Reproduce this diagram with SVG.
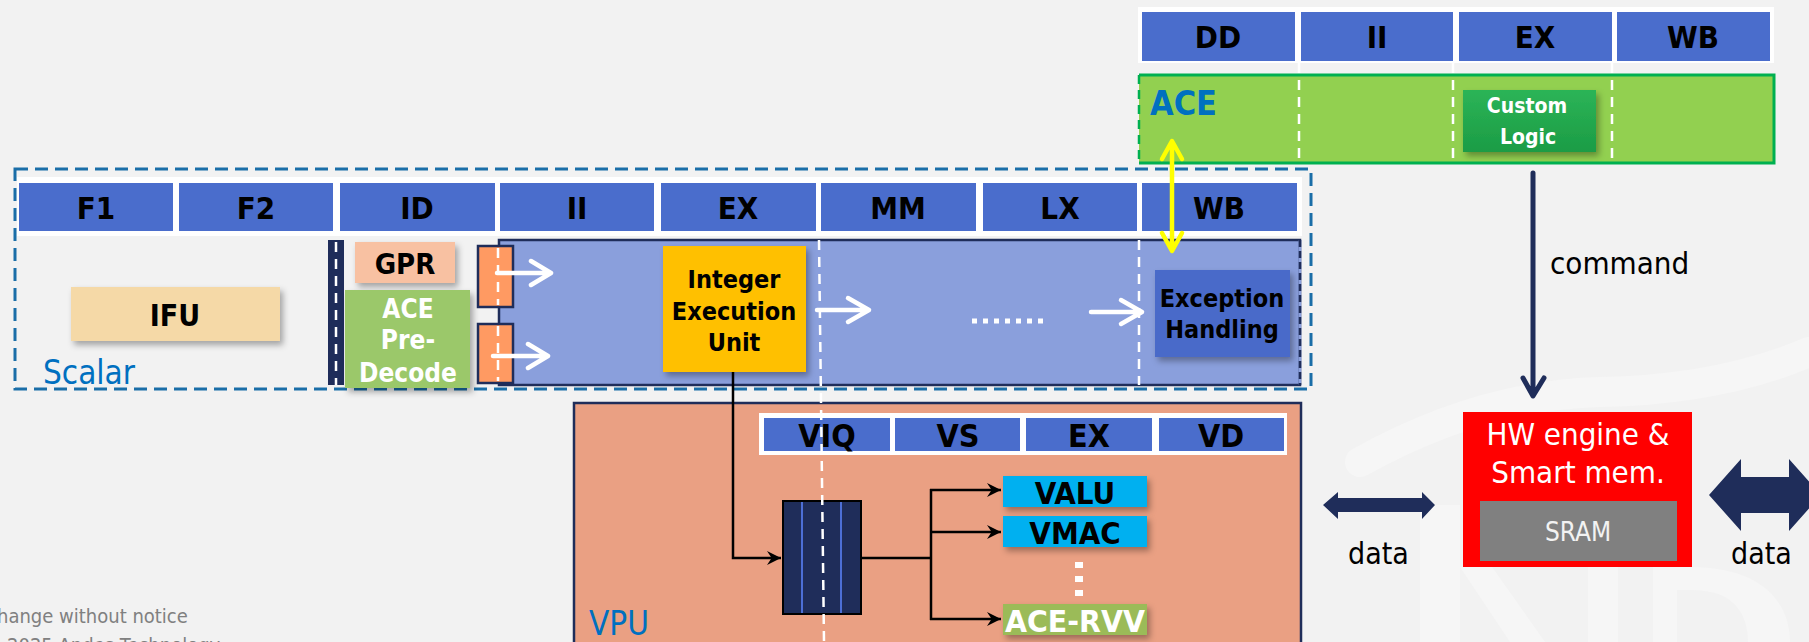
<svg xmlns="http://www.w3.org/2000/svg" width="1809" height="642" viewBox="0 0 1809 642">
<defs>
<style>
.b{font-family:'DejaVu Sans Condensed','DejaVu Sans',sans-serif;font-stretch:condensed;font-weight:bold;text-anchor:middle;fill:#000}
.r{font-family:'DejaVu Sans Condensed','DejaVu Sans',sans-serif;font-stretch:condensed}
.cell{fill:#4a6dcc}
.wd{stroke:#fff;stroke-width:2.5;stroke-dasharray:10 7;fill:none}
.wa{stroke:#fff;stroke-width:4.5;fill:none;stroke-linecap:round;stroke-linejoin:round}
.bl{stroke:#000;stroke-width:2.5;fill:none}
</style>
<filter id="sh" x="-15%" y="-15%" width="140%" height="150%">
<feDropShadow dx="3" dy="4" stdDeviation="3" flood-color="#000" flood-opacity="0.33"/>
</filter>
<linearGradient id="cg" x1="0" y1="0" x2="0" y2="1">
<stop offset="0" stop-color="#2cb457"/>
<stop offset="1" stop-color="#1b9c45"/>
</linearGradient>
<marker id="blk" viewBox="0 0 12 12" refX="12" refY="6" markerWidth="14" markerHeight="14" markerUnits="userSpaceOnUse" orient="auto">
<path d="M0,0 L12,6 L0,12 L4,6 z" fill="#000"/>
</marker>
</defs>
<rect width="1809" height="642" fill="#f2f2f2"/>
<g id="watermark" fill="#f6f6f6">
<path d="M1360,462 Q1480,395 1600,392 Q1720,390 1809,352" stroke="#f6f6f6" stroke-width="30" stroke-linecap="round" fill="none"/>
<rect x="1420" y="505" width="40" height="137"/>
<polygon points="1460,567 1492,567 1545,642 1510,642"/>
<rect x="1588" y="567" width="30" height="75"/>
<path d="M1653,642 V567 H1690 C1765,567 1790,605 1790,642 Z M1677,642 V590 H1692 C1735,590 1748,615 1748,642 Z" fill-rule="evenodd"/>
</g>

<g id="ace-stages">
<rect x="1138" y="7" width="636" height="56" fill="#fff"/>
<rect class="cell" x="1142" y="12" width="153" height="49"/>
<rect class="cell" x="1301" y="12" width="152" height="49"/>
<rect class="cell" x="1459" y="12" width="153" height="49"/>
<rect class="cell" x="1617" y="12" width="153" height="49"/>
<text class="b" x="1218" y="48" font-size="31">DD</text>
<text class="b" x="1377" y="48" font-size="31">II</text>
<text class="b" x="1535" y="48" font-size="31">EX</text>
<text class="b" x="1693" y="48" font-size="31">WB</text>
</g>

<g id="ace">
<rect x="1139" y="75" width="635" height="88" fill="#92d050"/>
<path d="M1139,75 H1774 V163 H1139" fill="none" stroke="#00b050" stroke-width="3"/>
<line x1="1139" y1="75" x2="1139" y2="163" stroke="#00b050" stroke-width="2.5" stroke-dasharray="9 6"/>
<line class="wd" x1="1299" y1="63" x2="1299" y2="163"/>
<line class="wd" x1="1453" y1="63" x2="1453" y2="163"/>
<line class="wd" x1="1612" y1="63" x2="1612" y2="163"/>
<text class="r" x="1150" y="115" font-size="34" font-weight="bold" fill="#0070c0">ACE</text>
</g>
<g id="custom-logic">
<rect x="1463" y="90" width="133" height="62" fill="url(#cg)" filter="url(#sh)"/>
<text class="b" x="1527" y="113" font-size="21" style="fill:#fff">Custom</text>
<text class="b" x="1528" y="144" font-size="21" style="fill:#fff">Logic</text>
</g>

<g id="scalar">
<rect x="15" y="169" width="1296" height="220" fill="none" stroke="#1a6ea8" stroke-width="3" stroke-dasharray="13 7"/>
<rect x="17" y="177" width="1285" height="59" fill="#fff"/>
<rect class="cell" x="19" y="183" width="154" height="48"/>
<rect class="cell" x="179" y="183" width="154" height="48"/>
<rect class="cell" x="340" y="183" width="155" height="48"/>
<rect class="cell" x="500" y="183" width="154" height="48"/>
<rect class="cell" x="661" y="183" width="155" height="48"/>
<rect class="cell" x="821" y="183" width="155" height="48"/>
<rect class="cell" x="983" y="183" width="154" height="48"/>
<rect class="cell" x="1142" y="183" width="155" height="48"/>
<text class="b" x="96" y="219" font-size="31">F1</text>
<text class="b" x="256" y="219" font-size="31">F2</text>
<text class="b" x="417" y="219" font-size="31">ID</text>
<text class="b" x="577" y="219" font-size="31">II</text>
<text class="b" x="738" y="219" font-size="31">EX</text>
<text class="b" x="898" y="219" font-size="31">MM</text>
<text class="b" x="1060" y="219" font-size="31">LX</text>
<text class="b" x="1219" y="219" font-size="31">WB</text>
<text class="r" x="43" y="384" font-size="33" fill="#0070c0">Scalar</text>
</g>

<g id="pipeline">
<rect x="499" y="240" width="801" height="145" fill="#8a9fdc" stroke="#1f2d5a" stroke-width="2.5"/>
<line x1="1300" y1="240" x2="1300" y2="385" stroke="#8a9fdc" stroke-width="2.5"/>
<line x1="1300" y1="240" x2="1300" y2="385" stroke="#1f2d5a" stroke-width="2.5" stroke-dasharray="7 4"/>
<line class="wd" x1="1139" y1="240" x2="1139" y2="385"/>
</g>

<g id="ifu">
<rect x="71" y="287" width="209" height="54" fill="#f5d9a7" filter="url(#sh)"/>
<text class="b" x="175" y="326" font-size="30">IFU</text>
</g>
<g id="id-latch">
<rect x="328" y="240" width="16" height="145" fill="#1f2d5a"/>
<line class="wd" x1="336" y1="242" x2="336" y2="385" stroke-width="2"/>
</g>
<g id="gpr">
<rect x="355" y="242" width="100" height="41" fill="#f8c1a2" filter="url(#sh)"/>
<text class="b" x="405" y="274" font-size="29">GPR</text>
</g>
<g id="ace-predecode">
<rect x="345" y="290" width="125" height="98" fill="#9bc86b" filter="url(#sh)"/>
<text class="b" x="408" y="318" font-size="26" style="fill:#fff">ACE</text>
<text class="b" x="408" y="349" font-size="26" style="fill:#fff">Pre-</text>
<text class="b" x="408" y="382" font-size="26" style="fill:#fff">Decode</text>
</g>
<g id="ii-latch">
<rect x="478" y="246" width="35" height="61" fill="#ff9a62" stroke="#1f2d5a" stroke-width="2.5"/>
<rect x="478" y="324" width="35" height="59" fill="#ff9a62" stroke="#1f2d5a" stroke-width="2.5"/>
<line class="wd" x1="498" y1="248" x2="498" y2="305" stroke-width="2"/>
<line class="wd" x1="498" y1="326" x2="498" y2="381" stroke-width="2"/>
</g>
<g id="integer-exec">
<rect x="663" y="246" width="143" height="126" fill="#ffc000" filter="url(#sh)"/>
<text class="b" x="734" y="288" font-size="25">Integer</text>
<text class="b" x="734" y="320" font-size="25">Execution</text>
<text class="b" x="734" y="351" font-size="25">Unit</text>
</g>
<g id="exception">
<rect x="1155" y="270" width="135" height="87" fill="#4a6bc9" filter="url(#sh)"/>
<text class="b" x="1222" y="307" font-size="25">Exception</text>
<text class="b" x="1222" y="338" font-size="25">Handling</text>
</g>

<g id="vpu">
<rect x="574" y="403" width="727" height="250" fill="#eaa083" stroke="#1f2d5a" stroke-width="2.5"/>
<rect x="759" y="413" width="528" height="42" fill="#fff"/>
<rect class="cell" x="764" y="418" width="126" height="33"/>
<rect class="cell" x="895" y="418" width="125" height="33"/>
<rect class="cell" x="1026" y="418" width="126" height="33"/>
<rect class="cell" x="1159" y="418" width="125" height="33"/>
<text class="b" x="827" y="447" font-size="32">VIQ</text>
<text class="b" x="958" y="447" font-size="32">VS</text>
<text class="b" x="1089" y="447" font-size="32">EX</text>
<text class="b" x="1221" y="447" font-size="32">VD</text>
<text class="r" x="589" y="635" font-size="33" fill="#0070c0">VPU</text>
</g>
<g id="vector-queue">
<rect x="783" y="501" width="78" height="113" fill="#1f2d5a" stroke="#000" stroke-width="2"/>
<line x1="802" y1="502" x2="802" y2="613" stroke="#4d6fd6" stroke-width="2"/>
<line x1="841" y1="502" x2="841" y2="613" stroke="#4d6fd6" stroke-width="2"/>
</g>
<line id="vdash" class="wd" x1="819" y1="240" x2="824" y2="642"/>
<g id="valu">
<rect x="1003" y="476" width="144" height="31" fill="#00b0f0" filter="url(#sh)"/>
<text class="b" x="1075" y="504" font-size="31">VALU</text>
</g>
<g id="vmac">
<rect x="1003" y="516" width="144" height="31" fill="#00b0f0" filter="url(#sh)"/>
<text class="b" x="1075" y="544" font-size="31">VMAC</text>
</g>
<g id="ace-rvv">
<rect x="1003" y="604" width="144" height="31" fill="#9bbb59" filter="url(#sh)"/>
<text class="b" x="1075" y="632" font-size="31" textLength="140" lengthAdjust="spacingAndGlyphs" style="fill:#fff">ACE-RVV</text>
</g>
<line x1="1079" y1="562" x2="1079" y2="596" stroke="#fff" stroke-width="8" stroke-dasharray="6 8"/>

<g id="hw-engine">
<rect x="1463" y="412" width="229" height="155" fill="#ff0000"/>
<text class="r" x="1578" y="445" font-size="31" fill="#fff" text-anchor="middle">HW engine &amp;</text>
<text class="r" x="1578" y="483" font-size="31" fill="#fff" text-anchor="middle">Smart mem.</text>
<rect x="1480" y="501" width="197" height="60" fill="#808080"/>
<text class="r" x="1578" y="541" font-size="26" fill="#f2f2f2" text-anchor="middle">SRAM</text>
</g>

<g id="connectors">
<polyline class="bl" points="733,372 733,558 781,558" marker-end="url(#blk)"/>
<polyline class="bl" points="861,558 931,558"/>
<line class="bl" x1="931" y1="489" x2="931" y2="620"/>
<line class="bl" x1="930" y1="490" x2="1001" y2="490" marker-end="url(#blk)"/>
<line class="bl" x1="930" y1="532" x2="1001" y2="532" marker-end="url(#blk)"/>
<line class="bl" x1="930" y1="619" x2="1001" y2="619" marker-end="url(#blk)"/>
<path class="wa" d="M497,273 H551 M531,261 L551,273 L531,285"/>
<path class="wa" d="M493,356 H548 M528,344 L548,356 L528,368"/>
<path class="wa" d="M817,310 H869 M848,298 L869,310 L848,322"/>
<path class="wa" d="M1091,312 H1142 M1121,300 L1142,312 L1121,324"/>
<line x1="972" y1="321" x2="1048" y2="321" stroke="#fff" stroke-width="5" stroke-dasharray="5 6"/>
<path d="M1172,142 V250 M1162,159 L1172,141 L1182,159 M1162,233 L1172,251 L1182,233" stroke="#ffff00" stroke-width="4.5" fill="none" stroke-linecap="round" stroke-linejoin="round"/>
<path d="M1533,173 V395 M1523,378 L1533,396 L1544,378" stroke="#1f2d5a" stroke-width="5" fill="none" stroke-linecap="round" stroke-linejoin="round"/>
<polygon points="1323,505 1338,492 1338,498 1422,498 1422,492 1435,505 1422,519 1422,512 1338,512 1338,519" fill="#1f2d5a"/>
<polygon points="1709,495 1741,459 1741,477 1789,477 1789,459 1821,495 1789,531 1789,513 1741,513 1741,531" fill="#1f2d5a"/>
</g>
<text class="r" x="1550" y="274" font-size="31" fill="#000">command</text>
<text class="r" x="1348" y="564" font-size="30" fill="#000">data</text>
<text class="r" x="1731" y="564" font-size="30" fill="#000">data</text>
<text class="r" x="-3" y="623" font-size="20" fill="#808080">hange without notice</text>
<text class="r" x="7" y="652" font-size="20" fill="#808080">2025 Andes Technology</text>
</svg>
